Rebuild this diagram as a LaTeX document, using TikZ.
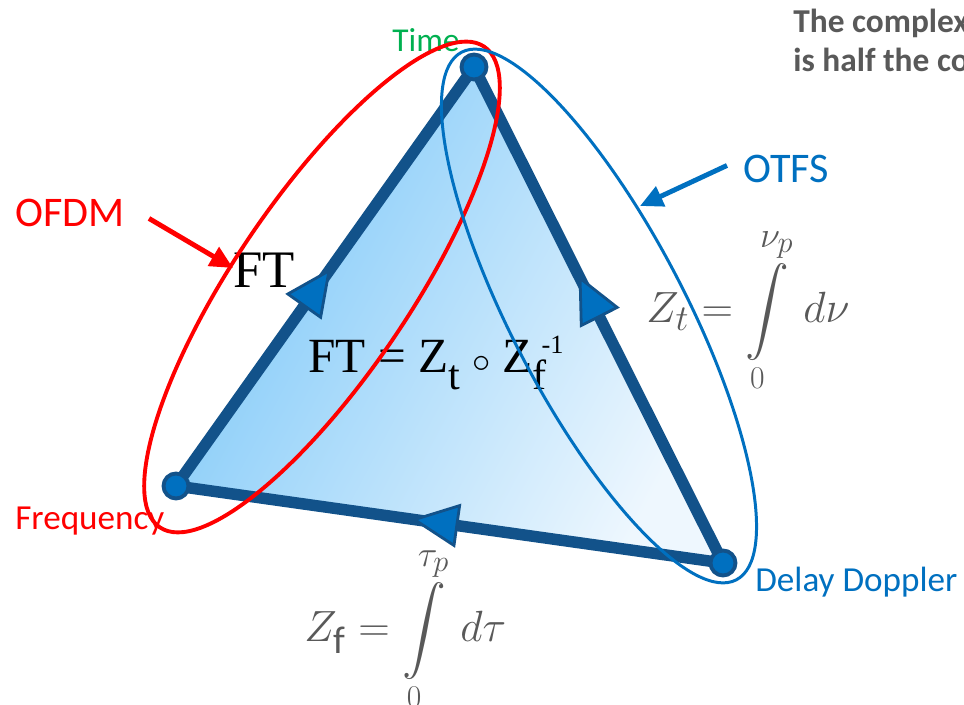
\documentclass[tikz,border=0pt]{standalone}
\usepackage{amsmath}
\usepackage{fontspec}
\usepackage{tikz}
\usetikzlibrary{arrows.meta,decorations.markings}
\newfontfamily\carlito{Carlito}
\newfontfamily\timesf{Liberation Serif}
\newcommand\limsize[1]{\mbox{\fontsize{21}{24}\selectfont#1}}
\newcommand\zerosize[1]{\mbox{\fontsize{18}{21}\selectfont#1}}
\newcommand\subsize[1]{\mbox{\fontsize{22}{25}\selectfont#1}}
\newcommand\limsub[1]{\mbox{\fontsize{17}{20}\selectfont#1}}
\definecolor{edgeblue}{RGB}{18,82,138}
\definecolor{dotblue}{RGB}{0,112,192}
\definecolor{ofdmred}{RGB}{255,0,0}
\definecolor{timegreen}{RGB}{0,176,80}
\definecolor{eqgray}{RGB}{89,89,89}
\definecolor{fillL}{RGB}{125,200,248}
\definecolor{fillM}{RGB}{92,185,245}
\definecolor{fillR}{RGB}{238,247,254}
\tikzset{
  vertex/.style={circle, draw=edgeblue, line width=2.2pt, fill=dotblue,
    minimum size=0.5cm, inner sep=0pt},
  side/.style={draw=edgeblue, line width=0.23cm, line cap=round, line join=round},
  midarrow/.style={postaction={decorate}, decoration={markings,
    mark=at position #1 with {\arrow{Triangle[length=27pt, width=25pt,
      line width=1.6pt, fill=dotblue, color=edgeblue]}}}},
  corner/.style={font=\carlito\fontsize{20}{24}\selectfont, inner sep=0pt, anchor=base west},
  scheme/.style={font=\carlito\fontsize{24}{28}\selectfont, inner sep=0pt, anchor=base west},
  formula/.style={text=eqgray, font=\fontsize{26}{30}\selectfont, inner sep=0pt, anchor=base west},
  fttext/.style={font=\timesf\fontsize{30}{34}\selectfont, inner sep=0pt, anchor=base west},
  callout/.style={line width=2.8pt, -{Triangle[length=13pt, width=12pt]}},
  hull/.style={line width=2.2pt}
}
\begin{document}
\begin{tikzpicture}[x=0.02cm, y=-0.02cm]
  \useasboundingbox (0,0) rectangle (964,705);
  \clip (0,0) rectangle (964,705);
  % corners of the triangle (pixel grid of the slide)
  \coordinate (time) at (474,67);
  \coordinate (freq) at (176,486);
  \coordinate (dd)   at (723,563);

  \shade[left color=fillL, middle color=fillM, right color=fillR, shading angle=62]
    (freq) -- (time) -- (dd) -- cycle;
  \draw[side, midarrow=0.52] (freq) -- (time);
  \draw[side, midarrow=0.58] (dd) -- (time);
  \draw[side, midarrow=0.57] (dd) -- (freq);
  \node[vertex] (vtime) at (time) {};
  \node[vertex] (vfreq) at (freq) {};
  \node[vertex] (vdd)   at (dd) {};

  % labels of the corners
  \node[corner, font=\carlito\fontsize{19}{23}\selectfont, text=timegreen] (tlbl) at (392,52) {Time};
  \node[corner, text=ofdmred] (flbl) at (15,530) {Frequency};
  \node[corner, text=dotblue] (dlbl) at (755,592) {Delay Doppler};

  % formulas
  \node[fttext] (ftlbl) at (233,288) {FT};
  \node[fttext, font=\timesf\fontsize{28}{32}\selectfont] (fteq) at (308,373)
    {FT = Z\raisebox{-9.6pt}{\fontsize{24}{26}\selectfont t} {\fontsize{20}{24}\selectfont$\circ$}
     Z\rlap{\raisebox{11pt}{\fontsize{15}{17}\selectfont\hspace{5pt}-1}}\raisebox{-9.6pt}{\fontsize{24}{26}\selectfont f}};
  \node[formula] (zt) at (646,323)
    {$Z_{\subsize{$t$}} = \displaystyle\int\limits_{\zerosize{0}}^{\limsize{$\nu_{\limsub{$p$}}$}}\, d\nu$};
  \node[formula] (zf) at (304,642)
    {$Z_{\subsize{\carlito f}} = \displaystyle\int\limits_{\zerosize{0}}^{\limsize{$\tau_{\limsub{$p$}}$}}\, d\tau$};

  % the two schemes
  \draw[hull, ofdmred, rotate around={56:(322,287)}] (322,287) ellipse [x radius=5.8cm, y radius=1.76cm];
  \draw[hull, dotblue, line width=1.7pt, rotate around={-62.5:(599,316)}] (599,316) ellipse [x radius=5.95cm, y radius=1.74cm];

  \node[scheme, text=ofdmred] (ofdm) at (15,227) {OFDM};
  \node[scheme, text=dotblue] (otfs) at (743,183) {OTFS};
  \coordinate (ofdmtip) at (233,268);
  \coordinate (otfstip) at (640,206);
  \draw[callout, ofdmred] (ofdm.east) ++(24,5) -- (ofdmtip);
  \draw[callout, dotblue] (otfs.west) ++(-16,-4) -- (otfstip);

  % note, cut by the slide edge
  \node[corner, font=\carlito\bfseries\fontsize{19}{23}\selectfont, text=eqgray] (note1) at (793,33) {The complex};
  \node[corner, font=\carlito\bfseries\fontsize{19}{23}\selectfont, text=eqgray] (note2) at (793,72) {is half the co};
\end{tikzpicture}
\end{document}
